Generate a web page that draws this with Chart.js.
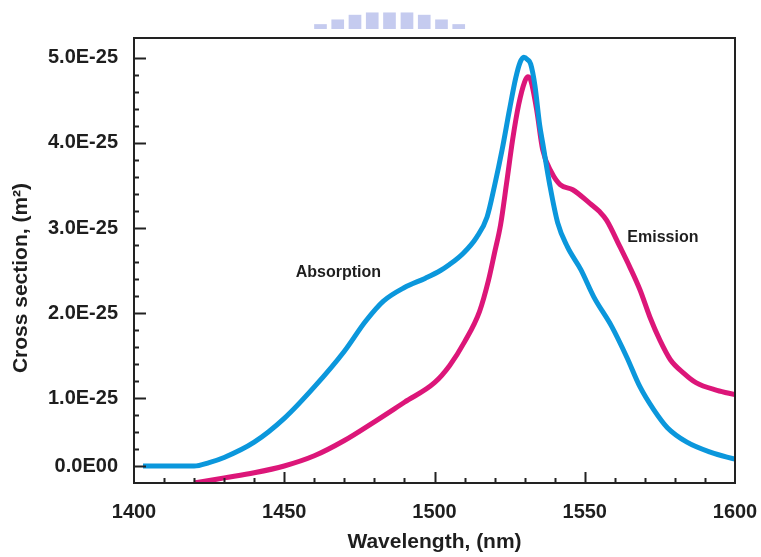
<!DOCTYPE html>
<html>
<head>
<meta charset="utf-8">
<script src="https://cdn.jsdelivr.net/npm/chart.js@4.4.1/dist/chart.umd.min.js"></script>
<style>
  html, body { margin: 0; padding: 0; background: #fff; }
  #wrap { width: 761px; height: 557px; }
</style>
</head>
<body>
<div id="wrap"><canvas id="grafico"></canvas></div>
<script>
// Dados (secção transversal em unidades de 1E-25 m²)
const absWl = [1403, 1410, 1420, 1425, 1430, 1440, 1450, 1460, 1470, 1477, 1483, 1490, 1497, 1502, 1505, 1509.5, 1514, 1517.5, 1520, 1522.5, 1525, 1527, 1528.5, 1529.7, 1531, 1532, 1533.4, 1535, 1536, 1538.4, 1541, 1544.2, 1548.7, 1553, 1559, 1564, 1568.4, 1573, 1577.5, 1584, 1592, 1600];
const absVal = [0.2, 0.2, 0.2, 0.24, 0.3, 0.48, 0.76, 1.13, 1.55, 1.9, 2.14, 2.3, 2.41, 2.5, 2.57, 2.7, 2.89, 3.13, 3.5, 3.92, 4.4, 4.76, 4.95, 5.01, 4.98, 4.93, 4.68, 4.21, 4.0, 3.5, 3.06, 2.78, 2.51, 2.19, 1.84, 1.48, 1.13, 0.86, 0.65, 0.48, 0.36, 0.28];

const emWl = [1420, 1425, 1430, 1440, 1450, 1460, 1470, 1480, 1490, 1500, 1505, 1510, 1515, 1518, 1520, 1522, 1524, 1526, 1528, 1530, 1531, 1532, 1534, 1536, 1539, 1541.8, 1546, 1551.7, 1555, 1557.3, 1561.7, 1565, 1568.4, 1571.7, 1575, 1578.5, 1583, 1587, 1594, 1600];
const emVal = [0.0, 0.03, 0.06, 0.12, 0.2, 0.32, 0.5, 0.72, 0.95, 1.18, 1.38, 1.66, 2.02, 2.39, 2.71, 3.04, 3.53, 4.04, 4.45, 4.72, 4.78, 4.74, 4.39, 3.92, 3.65, 3.51, 3.45, 3.29, 3.19, 3.09, 2.78, 2.54, 2.27, 1.95, 1.68, 1.45, 1.29, 1.18, 1.09, 1.04];

// Eixos
const xTickValues = [1400, 1450, 1500, 1550, 1600];
const xTickLabels = ["1400", "1450", "1500", "1550", "1600"];
const xMinorStep = 10;
const yTickValues = [0.2, 1, 2, 3, 4, 5];
const yTickLabels = ["0.0E00", "1.0E-25", "2.0E-25", "3.0E-25", "4.0E-25", "5.0E-25"];
const yMinorStep = 0.2;

// Legendas junto às curvas
const curveLabels = ["Absorption", "Emission"];
const curveLabelWl = [1468, 1576];
const curveLabelVal = [2.48, 2.89];

const tituloTopo = "▂▄▆▇▇▇▆▄▂";

const fonteTexto = "'Liberation Sans', Arial, sans-serif";
const corTexto = "#1e1e1e";

// Moldura, marcas dos eixos e rótulos das curvas
const molduraPlugin = {
  id: "moldura",
  afterDatasetsDraw(chart) {
    const { ctx, chartArea: a, scales } = chart;
    const x = scales.x, y = scales.y;
    ctx.save();
    ctx.strokeStyle = "#222";
    ctx.lineWidth = 2;

    // marcas do eixo y (para dentro)
    ctx.beginPath();
    for (let v = yMinorStep; v <= 5.0001; v += yMinorStep) {
      const py = Math.round(y.getPixelForValue(v)) + 0.5;
      const major = yTickValues.some((t) => Math.abs(t - v) < 1e-6);
      ctx.moveTo(a.left, py);
      ctx.lineTo(a.left + (major ? 12 : 5), py);
    }
    // marcas do eixo x (para cima)
    for (let v = 1400 + xMinorStep; v < 1600; v += xMinorStep) {
      const px = Math.round(x.getPixelForValue(v)) + 0.5;
      const major = xTickValues.includes(v);
      ctx.moveTo(px, a.bottom);
      ctx.lineTo(px, a.bottom - (major ? 11 : 5));
    }
    ctx.stroke();

    ctx.strokeRect(a.left, a.top, a.right - a.left, a.bottom - a.top);

    // rótulos das curvas
    ctx.fillStyle = corTexto;
    ctx.font = "bold 16px " + fonteTexto;
    ctx.textAlign = "center";
    ctx.textBaseline = "middle";
    curveLabels.forEach((txt, i) => {
      ctx.fillText(txt, x.getPixelForValue(curveLabelWl[i]), y.getPixelForValue(curveLabelVal[i]));
    });

    // título esbatido no topo
    ctx.fillStyle = "rgba(150,160,225,0.55)";
    ctx.font = "16px 'DejaVu Sans', sans-serif";
    ctx.letterSpacing = "5px";
    ctx.textBaseline = "alphabetic";
    ctx.fillText(tituloTopo, 392, 25);
    ctx.restore();
  },
};

new Chart(document.getElementById("grafico"), {
  type: "line",
  data: {
    datasets: [
      {
        label: "Absorption",
        data: absWl.map((w, i) => ({ x: w, y: absVal[i] })),
        borderColor: "#0b97dc",
        borderWidth: 5,
        pointRadius: 0,
        cubicInterpolationMode: "monotone",
      },
      {
        label: "Emission",
        data: emWl.map((w, i) => ({ x: w, y: emVal[i] })),
        borderColor: "#dc1679",
        borderWidth: 5,
        pointRadius: 0,
        cubicInterpolationMode: "monotone",
      },
    ],
  },
  options: {
    responsive: true,
    maintainAspectRatio: false,
    animation: false,
    layout: { padding: { top: 38, right: 26, left: 0, bottom: 0 } },
    plugins: {
      legend: { display: false },
      tooltip: { enabled: false },
    },
    scales: {
      x: {
        type: "linear",
        min: 1400,
        max: 1600,
        grid: { display: false },
        border: { display: false },
        afterBuildTicks: (s) => { s.ticks = xTickValues.map((v) => ({ value: v })); },
        afterFit: (s) => { s.height = 74; s.paddingLeft = 0; s.paddingRight = 0; },
        ticks: {
          autoSkip: false,
          maxRotation: 0,
          padding: 9,
          color: corTexto,
          font: { family: fonteTexto, size: 20, weight: "bold" },
          callback: (v) => xTickLabels[xTickValues.indexOf(v)],
        },
        title: {
          display: true,
          text: "Wavelength, (nm)",
          color: corTexto,
          font: { family: fonteTexto, size: 21, weight: "bold" },
          padding: { top: 0, bottom: 2 },
        },
      },
      y: {
        type: "linear",
        min: 0,
        max: 5.235,
        grid: { display: false },
        border: { display: false },
        afterBuildTicks: (s) => { s.ticks = yTickValues.map((v) => ({ value: v })); },
        afterFit: (s) => { s.width = 134; },
        ticks: {
          padding: 8,
          color: corTexto,
          font: { family: fonteTexto, size: 20, weight: "bold" },
          callback: (v) => yTickLabels[yTickValues.indexOf(v)],
        },
        title: {
          display: true,
          // espaços finais descem o texto para a posição do original
          text: "Cross section, (m²)      ",
          color: corTexto,
          font: { family: fonteTexto, size: 21, weight: "bold" },
          padding: { top: 9, bottom: 0 },
        },
      },
    },
  },
  plugins: [molduraPlugin],
});
</script>
</body>
</html>
